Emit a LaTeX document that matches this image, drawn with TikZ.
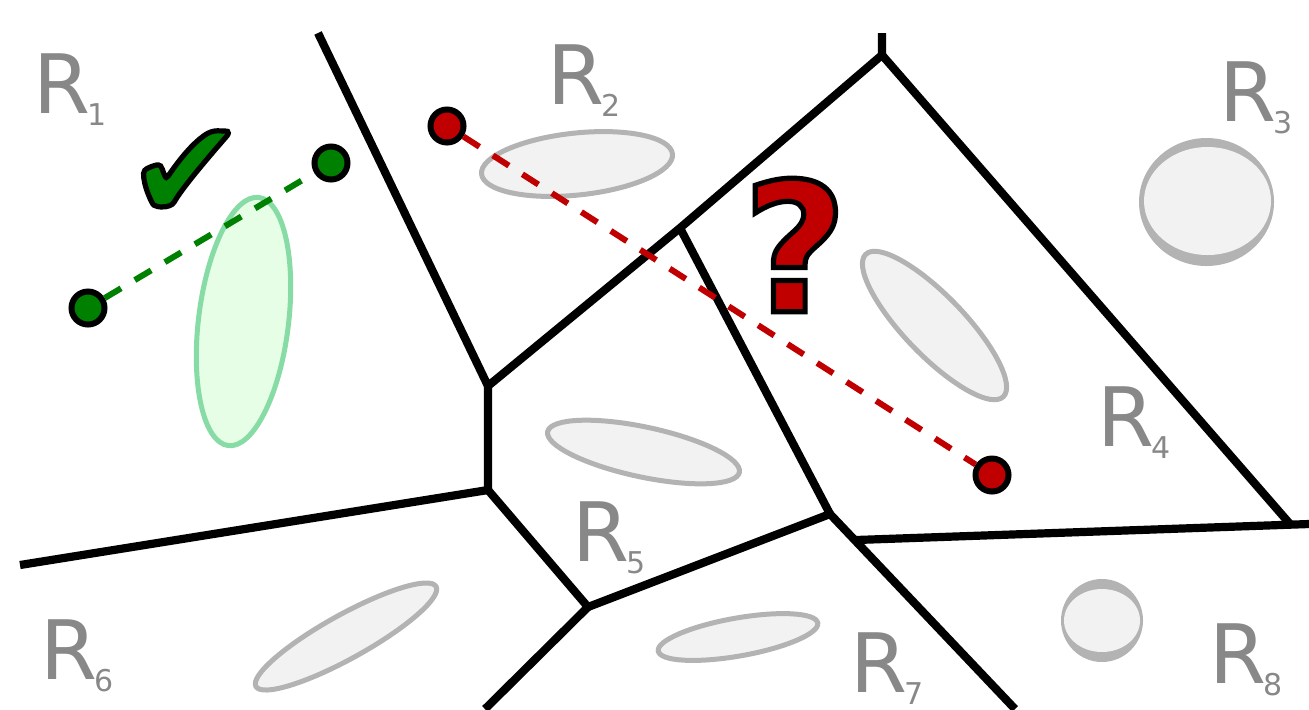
\documentclass[tikz,border=0pt]{standalone}
\usepackage{fontspec}
\setmainfont{DejaVu Sans}
\usetikzlibrary{calc}
\definecolor{labelgray}{HTML}{888888}
\definecolor{obstline}{HTML}{B3B3B3}
\definecolor{obstfill}{HTML}{F2F2F2}
\definecolor{okgreen}{HTML}{008000}
\definecolor{badred}{HTML}{C00000}
\definecolor{freeline}{HTML}{87DBA5}
\definecolor{freefill}{HTML}{E6FDE6}
\newcommand{\reg}[1]{R\kern-1.5pt\raisebox{-6pt}{\fontsize{15}{15}\selectfont #1}}
% glyph filled in the text colour and stroked in black
\newcommand{\outlined}[1]{\special{pdf:literal direct 2 Tr 2.6 w 0 0 0 RG}#1\special{pdf:literal direct 0 Tr}}

\begin{document}
\begin{tikzpicture}[x=0.5pt,y=-0.5pt,
   wall/.style={line width=4.1pt},
   obst/.style={draw=obstline,fill=obstfill,line width=2.5pt},
   lbl/.style={text=labelgray,font=\fontsize{41}{41}\selectfont,anchor=base west,inner sep=0pt},
   pnt/.style={circle,draw=black,line width=3pt,minimum size=16.5pt,inner sep=0pt},
   path/.style={line width=3pt,dash pattern=on 9.5pt off 8pt}]
  \useasboundingbox (0,0) rectangle (1309,709);

  % obstacles
  \draw[draw=freeline,fill=freefill,line width=2.5pt,rotate around={-7:(243.5,321.5)}]
       (243.5,321.5) ellipse (45 and 125);
  \draw[obst,rotate around={6:(577,164)}] (577,164) ellipse (96 and 31);
  \draw[obst,rotate around={-46:(934.5,325.5)}] (934.5,325.5) ellipse (99 and 30);
  \draw[obst,rotate around={-12:(643.5,452)}] (643.5,452) ellipse (98 and 25);
  \draw[obst,rotate around={29:(346,636.5)}] (346,636.5) ellipse (103 and 22);
  \draw[obst,rotate around={10:(738,637)}] (738,637) ellipse (81 and 19);
  \fill[obstline] (1206.5,202) ellipse (67.5 and 64);
  \fill[obstfill] (1207.5,201) ellipse (63.5 and 54);
  \fill[obstline] (1102,620.5) ellipse (41 and 41.5);
  \fill[obstfill] (1102,620.5) ellipse (38 and 31.5);

  % region borders
  \coordinate (top1) at (318,33);
  \coordinate (top2) at (882,33);
  \coordinate (vA) at (488,386);
  \coordinate (vB) at (680,228);
  \coordinate (vC) at (882,55);
  \coordinate (vD) at (488,490);
  \coordinate (vE) at (588,607);
  \coordinate (vF) at (830,514);
  \coordinate (vG) at (856,540);
  \coordinate (vH) at (1290,524);
  \coordinate (lft) at (20,565);
  \coordinate (bot1) at (485,709);
  \coordinate (bot2) at (1015,709);
  \coordinate (rgt) at (1309,524);
  \draw[wall] (top1) -- (vA) -- (vB) -- (vC) -- (top2);
  \draw[wall] (vC) -- (vH);
  \draw[wall] (vA) -- (vD) -- (lft);
  \draw[wall] (vD) -- (vE) -- (bot1);
  \draw[wall] (vE) -- (vF) -- (vB);
  \draw[wall] (vF) -- (bot2);
  \draw[wall] (vG) -- (rgt);

  \node[lbl] (r1) at (33,113) {\reg{1}};
  \node[lbl] (r2) at (547,104) {\reg{2}};
  \node[lbl] (r3) at (1219,121) {\reg{3}};
  \node[lbl] (r4) at (1097,446) {\reg{4}};
  \node[lbl] (r5) at (572,561) {\reg{5}};
  \node[lbl] (r6) at (40,679) {\reg{6}};
  \node[lbl] (r7) at (850,692) {\reg{7}};
  \node[lbl] (r8) at (1209,683) {\reg{8}};

  % queries
  \node[pnt,fill=okgreen] (g1) at (88,308) {};
  \node[pnt,fill=okgreen] (g2) at (331,163) {};
  \node[pnt,fill=badred] (p1) at (447,126) {};
  \node[pnt,fill=badred] (p2) at (992,475) {};
  \draw[path,okgreen] (g1) -- (g2);
  \draw[path,badred] (p1) -- (p2);
  \node[text=okgreen,font=\fontsize{70}{70}\selectfont,inner sep=0pt] (chk) at (186,175) {\outlined{✔}};
  \node[text=badred,font=\bfseries\fontsize{90}{90}\selectfont,inner sep=0pt] (qm) at (795,245) {\outlined{?}};
\end{tikzpicture}
\end{document}
